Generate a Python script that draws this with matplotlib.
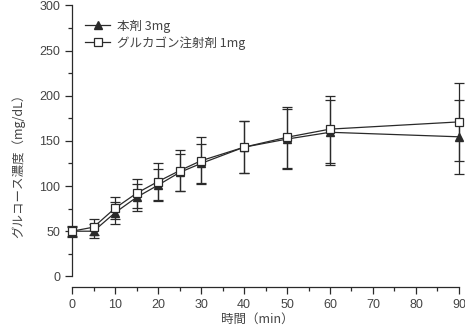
import matplotlib
matplotlib.use("Agg")
import matplotlib.pyplot as plt
from matplotlib.ticker import MultipleLocator
from matplotlib.lines import Line2D

plt.rcParams['font.family'] = ['Liberation Sans', 'Noto Sans CJK JP']

time_min = [0, 5, 10, 15, 20, 25, 30, 40, 50, 60, 90]
drug_mean = [50, 50, 70.5, 87.5, 101, 115, 125, 143, 152, 159.5, 154.5]
drug_sd = [5, 8, 12, 15, 18, 21, 22, 29, 33, 36, 41]
glucagon_mean = [50, 54.5, 75.5, 92, 105, 117, 128, 143, 154, 163, 171]
glucagon_sd = [6, 9, 12.5, 16, 20, 23, 26, 29, 34, 37, 43]

label_drug = "本剤 3mg"
label_glucagon = "グルカゴン注射剤 1mg"
xlabel = "時間（min）"
ylabel = "グルコース濃度（mg/dL）"

fig = plt.figure(figsize=(4.65, 3.35), dpi=100)
ax = fig.add_axes([0.155, 0.175, 0.832, 0.809])

col = "#2a2a2a"
tickcol = "#444444"
ax.errorbar(time_min, drug_mean, yerr=drug_sd, color=col, lw=0.9,
            elinewidth=0.9, capsize=3.5, capthick=0.9, marker="^", ms=5.5,
            mfc=col, mec=col, clip_on=False, zorder=3)
ax.errorbar(time_min, glucagon_mean, yerr=glucagon_sd, color=col, lw=0.9,
            elinewidth=0.9, capsize=3.5, capthick=0.9, marker="s", ms=6,
            mfc="white", mec=col, mew=0.9, clip_on=False, zorder=4)

ax.set_xlim(0, 90)
ax.set_ylim(0, 300)
ax.xaxis.set_major_locator(MultipleLocator(10))
ax.xaxis.set_minor_locator(MultipleLocator(5))
ax.yaxis.set_major_locator(MultipleLocator(50))
ax.yaxis.set_minor_locator(MultipleLocator(25))
for s in ["top", "right"]:
    ax.spines[s].set_visible(False)
ax.spines["bottom"].set_position(("outward", 8))
for s in ["left", "bottom"]:
    ax.spines[s].set_linewidth(0.9)
    ax.spines[s].set_color(col)
ax.tick_params(which="major", direction="out", length=5, width=0.9,
               labelsize=9, colors=col, labelcolor=tickcol)
ax.tick_params(which="minor", direction="out", length=3, width=0.9, colors=col)

ax.set_xlabel(xlabel, fontsize=9, color=tickcol, family=['Noto Sans CJK JP'])
ax.set_ylabel(ylabel, fontsize=9, color=tickcol, family=['Noto Sans CJK JP'])
ax.xaxis.set_label_coords(0.48, -0.135)
ax.yaxis.set_label_coords(-0.12, 0.42)

handles = [
    Line2D([], [], color=col, lw=0.9, marker="^", ms=5.5, mfc=col, mec=col),
    Line2D([], [], color=col, lw=0.9, marker="s", ms=6, mfc="white", mec=col, mew=0.9),
]
leg = ax.legend(handles, [label_drug, label_glucagon], loc="upper left",
                bbox_to_anchor=(0.015, 0.975), frameon=False,
                prop={'family': ['Noto Sans CJK JP'], 'size': 9},
                handlelength=2.0, handletextpad=0.5, labelspacing=0.25,
                borderaxespad=0.2)
for t in leg.get_texts():
    t.set_color(tickcol)

fig.savefig("out.png", dpi=100)
